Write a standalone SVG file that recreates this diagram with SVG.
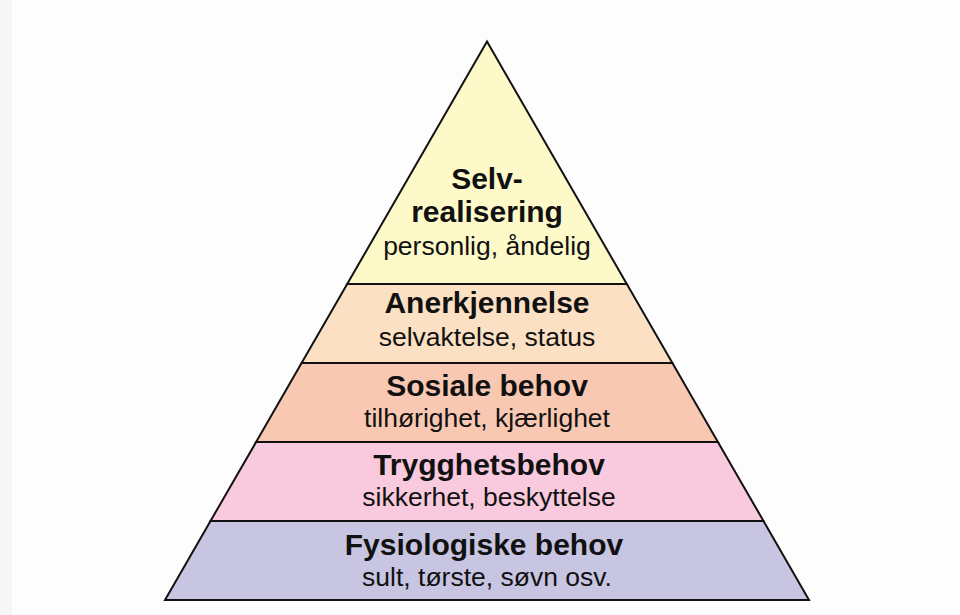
<svg xmlns="http://www.w3.org/2000/svg" width="960" height="615" viewBox="0 0 960 615">
<style>
.layer{stroke:#111;stroke-width:2;stroke-linejoin:miter}
.t{font-family:"Liberation Sans",Arial,sans-serif;font-weight:bold;font-size:30px;fill:#111;text-anchor:middle}
.s{font-family:"Liberation Sans",Arial,sans-serif;font-size:26.5px;fill:#111;text-anchor:middle}
</style>
<rect x="0" y="0" width="960" height="615" fill="#fdfdfd"/>
<rect x="0" y="0" width="12" height="615" fill="#f6f6f6"/>
<g id="selvrealisering">
<polygon class="layer" points="487,41.5 626.8,284 347.2,284" fill="#fdf9c8"/>
<text class="t" x="487" y="189" font-size="29">Selv-</text>
<text class="t" x="487" y="222" font-size="29">realisering</text>
<text class="s" x="487" y="255">personlig, åndelig</text>
</g>
<g id="anerkjennelse">
<polygon class="layer" points="347.2,284 626.8,284 672.4,363 301.6,363" fill="#fbe0c3"/>
<text class="t" x="487" y="313">Anerkjennelse</text>
<text class="s" x="487" y="346">selvaktelse, status</text>
</g>
<g id="sosiale">
<polygon class="layer" points="301.6,363 672.4,363 717.9,442 256.1,442" fill="#f9c8b2"/>
<text class="t" x="487" y="395.5">Sosiale behov</text>
<text class="s" x="487" y="426.5">tilhørighet, kjærlighet</text>
</g>
<g id="trygghet">
<polygon class="layer" points="256.1,442 717.9,442 763.5,521 210.5,521" fill="#f9c9dd"/>
<text class="t" x="489" y="475">Trygghetsbehov</text>
<text class="s" x="489" y="506">sikkerhet, beskyttelse</text>
</g>
<g id="fysiologiske">
<polygon class="layer" points="210.5,521 763.5,521 809,600 165,600" fill="#c7c5e2"/>
<text class="t" x="484" y="555">Fysiologiske behov</text>
<text class="s" x="487" y="586">sult, tørste, søvn osv.</text>
</g>
</svg>
